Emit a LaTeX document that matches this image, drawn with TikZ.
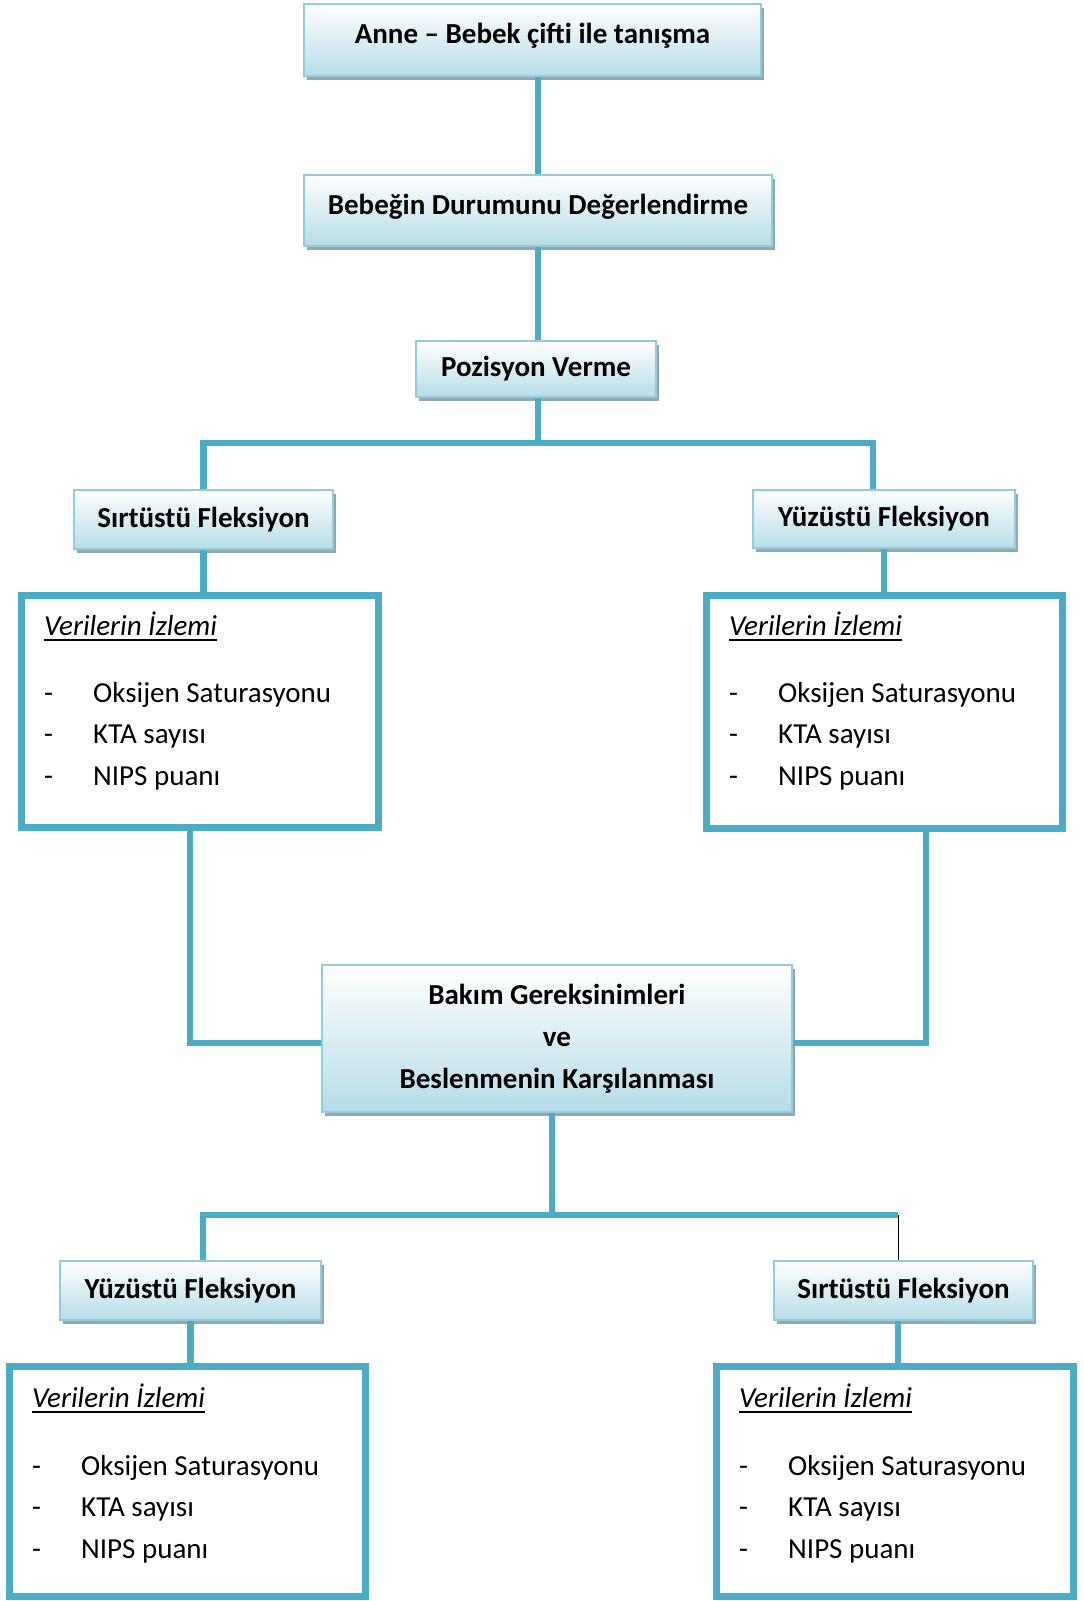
\documentclass[tikz,border=0pt]{standalone}
\usepackage{fontspec}
\setmainfont{Carlito}
\usetikzlibrary{shadows}
\definecolor{connc}{RGB}{75,172,198}
\definecolor{bline}{RGB}{147,205,221}
\definecolor{bfill}{RGB}{182,221,232}
\definecolor{bshadow}{RGB}{145,168,176}
\newcommand\montext[5]{%
  \node[txt] (#1h) at (#2,#4) {\textit{Verilerin İzlemi}};
  \draw[line width=2pt] ([yshift=-5pt]#1h.base west) -- ([yshift=-5pt]#1h.base east);
  \node[txt] (#1d1) at (#2,#5) {-};
  \node[txt] (#1i1) at (#3,#5) {Oksijen Saturasyonu};
  \node[txt] (#1d2) at (#2,#5+41.5) {-};
  \node[txt] (#1i2) at (#3,#5+41.5) {KTA sayısı};
  \node[txt] (#1d3) at (#2,#5+83) {-};
  \node[txt] (#1i3) at (#3,#5+83) {NIPS puanı};
}
\begin{document}
\begin{tikzpicture}[x=1pt,y=-1pt,line join=miter,
  conn/.style={draw=connc, line width=6.5pt},
  titlebox/.style={draw=bline, line width=2pt, top color=white, bottom color=bfill,
    drop shadow={fill=bshadow, opacity=1, shadow xshift=3pt, shadow yshift=-4pt},
    font=\fontsize{29}{42}\selectfont\bfseries, inner sep=0pt, align=center},
  monbox/.style={draw=connc, line width=6.5pt, fill=white, inner sep=0pt},
  txt/.style={anchor=base west, inner sep=0pt, font=\fontsize{29}{35}\selectfont},
  ]
\useasboundingbox[fill=white] (0,0) rectangle (1084,1601);

% title boxes
\node[titlebox, minimum width=457pt, minimum height=72pt] (b1) at (532.5,40) {\raisebox{4pt}[\height][\depth]{Anne – Bebek çifti ile tanışma}};
\node[titlebox, minimum width=468pt, minimum height=71pt] (b2) at (538,210.5) {\raisebox{4pt}[\height][\depth]{Bebeğin Durumunu Değerlendirme}};
\node[titlebox, minimum width=240pt, minimum height=56pt] (b3) at (536,369) {Pozisyon Verme};
\node[titlebox, minimum width=259pt, minimum height=59pt] (b4) at (203.5,519.5) {Sırtüstü Fleksiyon};
\node[titlebox, minimum width=262pt, minimum height=58pt] (b5) at (884,519) {Yüzüstü Fleksiyon};
\node[titlebox, minimum width=470pt, minimum height=147pt] (b6) at (557,1038.5) {Bakım Gereksinimleri\\ve\\Beslenmenin Karşılanması};
\node[titlebox, minimum width=261pt, minimum height=59pt] (b7) at (190.5,1290.5) {Yüzüstü Fleksiyon};
\node[titlebox, minimum width=259pt, minimum height=59pt] (b8) at (903.5,1290.5) {Sırtüstü Fleksiyon};

% monitoring boxes
\node[monbox, minimum width=357pt, minimum height=232pt] (m1) at (200,711.5) {};
\node[monbox, minimum width=356pt, minimum height=233pt] (m2) at (884.5,712) {};
\node[monbox, minimum width=356pt, minimum height=230pt] (m3) at (187.5,1481.5) {};
\node[monbox, minimum width=357pt, minimum height=230pt] (m4) at (895,1481.5) {};

% junction coordinates
\coordinate (j1) at (538,443);
\coordinate (j1r) at (873,443);
\coordinate (l1) at (190,1043);
\coordinate (r1) at (926,1043);
\coordinate (j2) at (552,1215);
\coordinate (j2l) at (203,1215);
\coordinate (j2r) at (898,1215);

% connectors
\draw[conn] (b2.north) -- (b2.north |- b1.south);
\draw[conn] (b2.south) -- (b2.south |- b3.north);
\draw[conn] (b3.south -| j1) -- (j1);
\draw[conn] (b4.north) |- (j1r) -- (j1r |- b5.north);
\draw[conn] (b4.south) -- (b4.south |- m1.north);
\draw[conn] (b5.south) -- (b5.south |- m2.north);
\draw[conn] (m1.south -| l1) -- (l1) -- (l1 -| b6.west);
\draw[conn] (m2.south -| r1) -- (r1) -- (r1 -| b6.east);
\draw[conn] (b6.south -| j2) -- (j2);
\draw[conn] (j2l |- b7.north) -- (j2l) -- (j2r);
\draw[black, line width=1pt] (j2r) -- (j2r |- b8.north);
\draw[conn] (b7.south) -- (b7.south |- m3.north);
\draw[conn] (b8.south -| j2r) -- (j2r |- m4.north);

\montext{a}{44}{93}{635}{702}
\montext{b}{729}{778}{635}{702}
\montext{c}{32}{81}{1407}{1475}
\montext{d}{739}{788}{1407}{1475}
\end{tikzpicture}
\end{document}
